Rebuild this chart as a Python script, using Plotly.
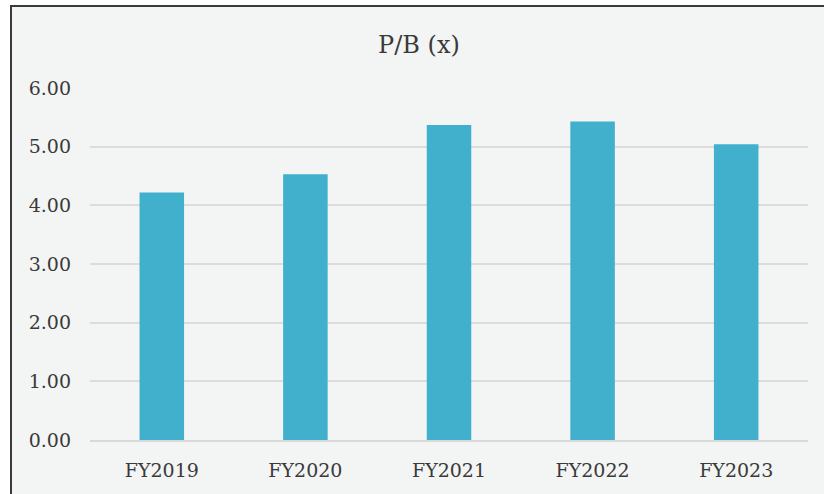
import plotly.graph_objects as go

categories = ["FY2019", "FY2020", "FY2021", "FY2022", "FY2023"]
pb_values = [4.22, 4.53, 5.37, 5.43, 5.04]
y_ticks = [0, 1, 2, 3, 4, 5, 6]
y_tick_labels = ["0.00", "1.00", "2.00", "3.00", "4.00", "5.00", "6.00"]

W, H = 824, 494
L, R, T, B = 90, 16, 88, 54
pw, ph = W - L - R, H - T - B

def px_x(p):
    return (p - L) / pw

def px_y(p):
    return (H - B - p) / ph

font_family = "DejaVu Serif"
text_color = "#3A3A3A"

fig = go.Figure(
    go.Bar(
        x=categories,
        y=pb_values,
        marker=dict(color="#41B0CC", line=dict(width=0)),
        width=0.31,
    )
)

fig.update_layout(
    width=W,
    height=H,
    margin=dict(l=L, r=R, t=T, b=B),
    paper_bgcolor="white",
    plot_bgcolor="rgba(0,0,0,0)",
    showlegend=False,
    title=dict(
        text="P/B (x)",
        x=419 / W,
        xanchor="center",
        y=1 - 45 / H,
        yanchor="middle",
        font=dict(family=font_family, size=24, color=text_color),
    ),
    font=dict(family=font_family, size=19, color=text_color),
    shapes=[
        dict(
            type="rect",
            xref="paper",
            yref="paper",
            x0=px_x(11),
            x1=px_x(840),
            y0=px_y(510),
            y1=px_y(6),
            fillcolor="#F3F4F4",
            line=dict(color="#3A3A3A", width=2),
            layer="below",
        )
    ],
)

fig.update_xaxes(
    showgrid=False,
    showline=True,
    linecolor="#D9D9D9",
    linewidth=1.5,
    ticks="",
    ticklabelstandoff=12,
    tickfont=dict(family=font_family, size=19, color=text_color),
)

fig.update_yaxes(
    range=[0, 6],
    tickvals=y_ticks,
    ticktext=y_tick_labels,
    showgrid=True,
    gridcolor="#DCDCDC",
    gridwidth=1.5,
    zeroline=False,
    showline=False,
    ticks="",
    ticklabelstandoff=18,
    tickfont=dict(family=font_family, size=19, color=text_color),
)

fig.write_html("out.html")
